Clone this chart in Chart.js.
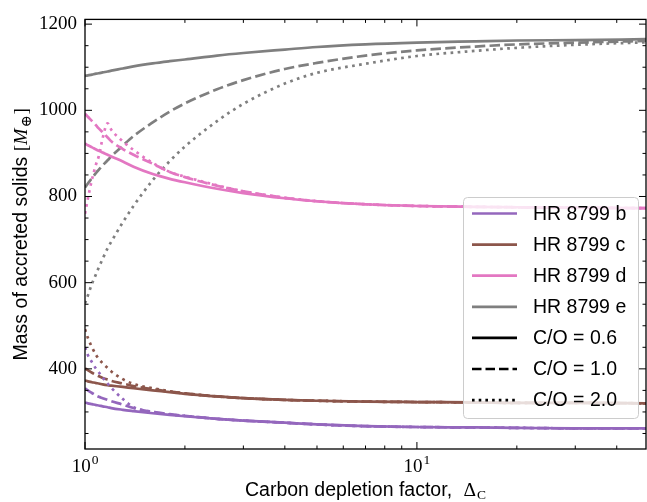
<!DOCTYPE html>
<html><head><meta charset="utf-8">
<script src="https://cdn.jsdelivr.net/npm/chart.js@4.4.1/dist/chart.umd.min.js"></script>
<style>html,body{margin:0;padding:0;background:#fff;} #wrap{width:647px;height:502px;}</style>
</head><body><div id="wrap"><canvas id="c" width="647" height="502"></canvas></div>
<script>
// ---- data ----
const deltaC = [1, 1.02, 1.05, 1.08, 1.1, 1.13, 1.17, 1.2, 1.3, 1.4, 1.6, 1.8, 2, 2.5, 3, 4, 5, 7, 10, 15, 20, 30, 49];

const planets = ['HR 8799 b', 'HR 8799 c', 'HR 8799 d', 'HR 8799 e'];
const coLabels = ['C/O = 0.6', 'C/O = 1.0', 'C/O = 2.0'];

const b_co06 = [322, 320, 318, 316, 315, 313, 311, 309, 305, 302, 297, 293, 290, 284, 280, 275, 271, 267, 265, 264, 263, 262, 262];
const b_co10 = [355, 350, 344, 338, 335, 332, 328, 325, 317, 309, 300, 295, 291, 284, 280, 275, 271, 267, 265, 264, 263, 262, 262];
const b_co20 = [450, 432, 415, 400, 392, 380, 366, 356, 330, 311, 300, 294, 291, 284, 280, 275, 271, 267, 265, 264, 263, 262, 262];

const c_co06 = [373, 371, 369, 367, 366, 364, 362, 361, 358, 355, 350, 346, 342, 336, 332, 328, 326, 324, 323, 322, 321, 321, 320];
const c_co10 = [401, 397, 391, 386, 383, 379, 375, 372, 366, 360, 353, 347, 343, 336, 332, 328, 326, 324, 323, 322, 321, 321, 320];
const c_co20 = [492, 472, 450, 432, 423, 413, 402, 394, 376, 365, 355, 348, 343, 336, 332, 328, 326, 324, 323, 322, 321, 321, 320];

const d_co06 = [923, 919, 914, 909, 906, 902, 897, 893, 881, 869, 852, 841, 833, 818, 808, 796, 789, 782, 778, 776, 775, 774, 773];
const d_co10 = [992, 985, 975, 965, 958, 949, 937, 928, 910, 897, 876, 857, 845, 825, 812, 797, 789, 782, 778, 776, 775, 774, 773];
const d_co20 = [760, 795, 840, 875, 893, 935, 970, 955, 928, 908, 878, 857, 846, 826, 812, 797, 789, 782, 778, 776, 775, 774, 773];

const e_co06 = [1080, 1081, 1083, 1085, 1086, 1088, 1090, 1092, 1097, 1102, 1109, 1114, 1118, 1127, 1133, 1141, 1147, 1153, 1157, 1160, 1162, 1163, 1165];
const e_co10 = [821, 830, 843, 855, 862, 872, 884, 893, 918, 940, 972, 997, 1016, 1049, 1070, 1096, 1110, 1127, 1139, 1148, 1153, 1157, 1161];
const e_co20 = [552, 570, 598, 620, 635, 655, 680, 695, 740, 778, 838, 882, 916, 975, 1015, 1062, 1087, 1108, 1126, 1138, 1145, 1152, 1158];

const xMajorTicks = [1, 10];
const xTickLabels = ['10^0', '10^1'];
const xMinorTicks = [2, 3, 4, 5, 6, 7, 8, 9, 20, 30, 40];
const yMajorTicks = [400, 600, 800, 1000, 1200];
const yTickLabels = ['400', '600', '800', '1000', '1200'];
const yMinorTicks = [250, 300, 350, 450, 500, 550, 650, 700, 750, 850, 900, 950, 1050, 1100, 1150];

const xTitle = 'Carbon depletion factor, ';
const yTitle = 'Mass of accreted solids ';

// ---- styles ----
const planetColors = ['#9467bd', '#8c564b', '#e377c2', '#7f7f7f'];
const coDashes = [[], [10.5, 4.3], [2.7, 4.4]];
const legendDashes = [[], [9.5, 4], [2.6, 4.1]];
const LW = 2.7;
const SANS = '"Liberation Sans", Arial, sans-serif';
const SERIF = '"Liberation Serif", "Times New Roman", serif';

const seriesValues = [
  [b_co06, b_co10, b_co20],
  [c_co06, c_co10, c_co20],
  [d_co06, d_co10, d_co20],
  [e_co06, e_co10, e_co20]
];

const datasets = [];
seriesValues.forEach((group, p) => {
  group.forEach((vals, k) => {
    datasets.push({
      label: planets[p] + ' ' + coLabels[k],
      data: deltaC.map((x, i) => ({x: x, y: vals[i]})),
      borderColor: planetColors[p],
      backgroundColor: planetColors[p],
      borderWidth: LW,
      borderDash: coDashes[k],
      borderCapStyle: 'butt',
      pointRadius: 0,
      fill: false,
      cubicInterpolationMode: 'monotone'
    });
  });
});

const decor = {
  id: 'decor',
  afterDraw(chart) {
    const {ctx, chartArea: a, scales: {x, y}} = chart;
    ctx.save();
    const seg = (x1, y1, x2, y2) => { ctx.beginPath(); ctx.moveTo(x1, y1); ctx.lineTo(x2, y2); ctx.stroke(); };
    ctx.strokeStyle = '#000';
    ctx.lineWidth = 1;
    xMajorTicks.forEach(v => { const p = x.getPixelForValue(v); seg(p, a.bottom, p, a.bottom - 7); seg(p, a.top, p, a.top + 7); });
    xMinorTicks.forEach(v => { const p = x.getPixelForValue(v); seg(p, a.bottom, p, a.bottom - 3.5); seg(p, a.top, p, a.top + 3.5); });
    yMajorTicks.forEach(v => { const p = y.getPixelForValue(v); seg(a.left, p, a.left + 7, p); seg(a.right, p, a.right - 7, p); });
    yMinorTicks.forEach(v => { const p = y.getPixelForValue(v); seg(a.left, p, a.left + 3.5, p); seg(a.right, p, a.right - 3.5, p); });
    ctx.lineWidth = 1.3;
    ctx.strokeRect(a.left, a.top, a.right - a.left, a.bottom - a.top);

    // x tick labels with superscript
    ctx.fillStyle = '#000';
    ctx.textBaseline = 'alphabetic';
    ctx.textAlign = 'left';
    xMajorTicks.forEach((v, i) => {
      const [base, exp] = xTickLabels[i].split('^');
      const p = x.getPixelForValue(v);
      ctx.font = '19px ' + SERIF;
      const wb = ctx.measureText(base).width;
      ctx.font = '13.5px ' + SERIF;
      const we = ctx.measureText(exp).width;
      const s = p - (wb + we + 1) / 2;
      ctx.font = '19px ' + SERIF;
      ctx.fillText(base, s, a.bottom + 22.5);
      ctx.font = '13.5px ' + SERIF;
      ctx.fillText(exp, s + wb + 1, a.bottom + 14.5);
    });

    // x title
    ctx.font = '19.5px ' + SANS;
    const wx = ctx.measureText(xTitle).width;
    ctx.font = '19.5px ' + SERIF;
    const wd = ctx.measureText('\u0394').width;
    ctx.font = '13.5px ' + SERIF;
    const wc = ctx.measureText('C').width;
    const totalX = wx + 6 + wd + 1 + wc;
    let sx = (a.left + a.right) / 2 - totalX / 2;
    const by = a.bottom + 46.5;
    ctx.font = '19.5px ' + SANS;
    ctx.fillText(xTitle, sx, by);
    sx += wx + 6;
    ctx.font = '19.5px ' + SERIF;
    ctx.fillText('\u0394', sx, by);
    sx += wd + 1;
    ctx.font = '13.5px ' + SERIF;
    ctx.fillText('C', sx, by + 3.5);

    // y title (rotated)
    ctx.save();
    ctx.translate(27, (a.top + a.bottom) / 2);
    ctx.rotate(-Math.PI / 2);
    ctx.font = '19.5px ' + SANS;
    const wy = ctx.measureText(yTitle).width;
    ctx.font = '19.5px ' + SERIF;
    const wlb = ctx.measureText('[').width;
    ctx.font = 'italic 19.5px ' + SERIF;
    const wm = ctx.measureText('M').width;
    ctx.font = '14.5px "DejaVu Serif", ' + SERIF;
    const wo = ctx.measureText('\u2295').width;
    ctx.font = '19.5px ' + SERIF;
    const wrb = ctx.measureText(']').width;
    const totalY = wy + wlb + wm + 1 + wo + 1 + wrb;
    let ty = -totalY / 2;
    ctx.font = '19.5px ' + SANS;
    ctx.fillText(yTitle, ty, 0); ty += wy;
    ctx.font = '19.5px ' + SERIF;
    ctx.fillText('[', ty, 0); ty += wlb;
    ctx.font = 'italic 19.5px ' + SERIF;
    ctx.fillText('M', ty, 0); ty += wm + 1;
    ctx.font = '14.5px "DejaVu Serif", ' + SERIF;
    ctx.fillText('\u2295', ty, 3.5); ty += wo + 1;
    ctx.font = '19.5px ' + SERIF;
    ctx.fillText(']', ty, 0);
    ctx.restore();

    // legend
    const lx0 = 463.5, ly0 = 197.5, lw = 175, lh = 221;
    ctx.beginPath();
    ctx.roundRect(lx0, ly0, lw, lh, 4);
    ctx.fillStyle = 'rgba(255,255,255,0.8)';
    ctx.fill();
    ctx.strokeStyle = '#cccccc';
    ctx.lineWidth = 1;
    ctx.stroke();
    const items = planets.map((t, i) => ({text: t, color: planetColors[i], dash: []}))
      .concat(coLabels.map((t, k) => ({text: t, color: '#000', dash: legendDashes[k]})));
    ctx.font = '19.5px ' + SANS;
    ctx.textBaseline = 'middle';
    items.forEach((it, i) => {
      const cy = 213.5 + i * 31.1;
      ctx.strokeStyle = it.color;
      ctx.lineWidth = LW;
      ctx.lineCap = 'butt';
      ctx.setLineDash(it.dash);
      seg(472, cy, 517, cy);
      ctx.setLineDash([]);
      ctx.fillStyle = '#000';
      ctx.fillText(it.text, 533, cy + 1);
    });
    ctx.restore();
  }
};

new Chart(document.getElementById('c'), {
  type: 'line',
  data: {datasets: datasets},
  options: {
    responsive: false,
    animation: false,
    devicePixelRatio: 1,
    layout: {padding: {top: 10, right: 1, bottom: 0, left: 0}},
    plugins: {legend: {display: false}, tooltip: {enabled: false}},
    scales: {
      x: {
        type: 'logarithmic', min: 1, max: 49,
        grid: {display: false, drawTicks: false},
        border: {display: false},
        ticks: {display: false},
        afterBuildTicks: s => { s.ticks = xMajorTicks.map(v => ({value: v})); },
        afterFit: s => { s.height = 53; }
      },
      y: {
        type: 'linear', min: 214, max: 1211,
        grid: {display: false, drawTicks: false},
        border: {display: false},
        afterBuildTicks: s => { s.ticks = yMajorTicks.map(v => ({value: v})); },
        ticks: {
          color: '#000', padding: 8,
          font: {family: SERIF, size: 19},
          callback: (v, i) => yTickLabels[i]
        },
        afterFit: s => { s.width = 85; }
      }
    }
  },
  plugins: [decor]
});
</script>
</body></html>
